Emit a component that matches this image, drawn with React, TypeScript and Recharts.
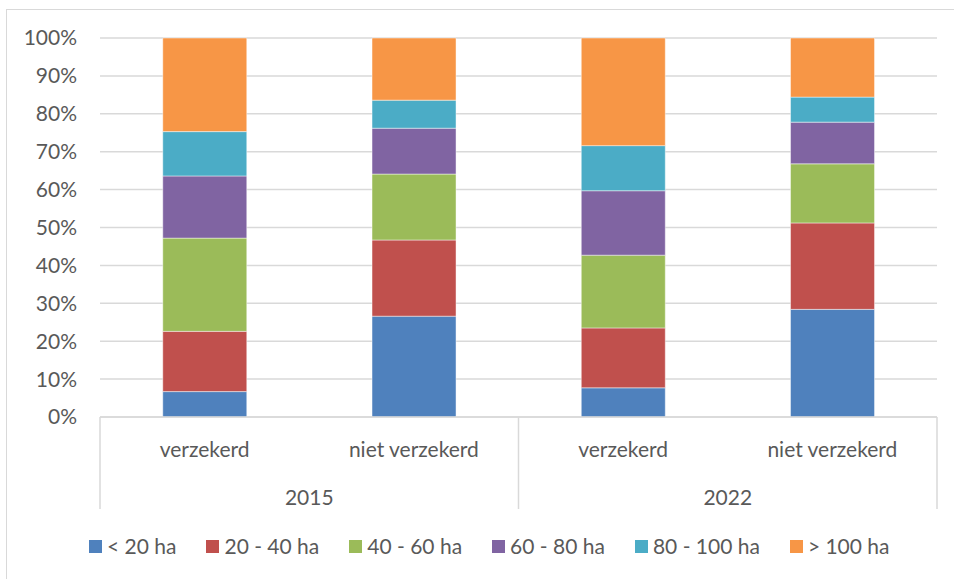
import { BarChart, Bar, XAxis, YAxis, CartesianGrid } from "recharts";

// bar labels (two-level axis: group / year)
const categories = ["verzekerd", "niet verzekerd", "verzekerd", "niet verzekerd"];
const years = ["2015", "2015", "2022", "2022"];

// share per size class, in % of each bar
const lt20 = [6.7, 26.6, 7.7, 28.4];
const s20to40 = [15.9, 20.1, 15.8, 22.8];
const s40to60 = [24.6, 17.4, 19.2, 15.6];
const s60to80 = [16.4, 12.1, 17.0, 11.0];
const s80to100 = [11.7, 7.4, 11.9, 6.6];
const gt100 = [24.7, 16.4, 28.4, 15.6];

const yTicks = [0, 0.1, 0.2, 0.3, 0.4, 0.5, 0.6, 0.7, 0.8, 0.9, 1];

const SERIES = [
  { key: "lt20", name: "< 20 ha", values: lt20, color: "#4F81BD" },
  { key: "s20to40", name: "20 - 40 ha", values: s20to40, color: "#C0504D" },
  { key: "s40to60", name: "40 - 60 ha", values: s40to60, color: "#9BBB59" },
  { key: "s60to80", name: "60 - 80 ha", values: s60to80, color: "#8064A2" },
  { key: "s80to100", name: "80 - 100 ha", values: s80to100, color: "#4BACC6" },
  { key: "gt100", name: "> 100 ha", values: gt100, color: "#F79646" },
];

const FONT = "Lato, 'Liberation Sans', sans-serif";
const FS = 21;
const TEXT = "#595959";
const LINE = "#d9d9d9";

const chartData = categories.map((c, i) => {
  const row: Record<string, string | number> = { id: `${years[i]}-${c}`, label: c, year: years[i] };
  SERIES.forEach((s) => {
    row[s.key] = s.values[i];
  });
  return row;
});

// fallback half band width if the tick payload has no offset
const PLOT_W = 954 - 100 - 17;
const HALF_BAND = PLOT_W / categories.length / 2;

function TwoLevelTick(props: any) {
  const { x, y, payload } = props;
  const idx: number = payload.index ?? 0;
  const off: number = payload.offset || HALF_BAND;
  const firstInGroup = idx === 0 || years[idx] !== years[idx - 1];
  const lastInGroup = idx === years.length - 1 || years[idx] !== years[idx + 1];
  return (
    <g>
      <text
        x={x}
        y={y + 31}
        textAnchor="middle"
        dominantBaseline="central"
        fill={TEXT}
        fontSize={FS}
        fontFamily={FONT}
      >
        {categories[idx]}
      </text>
      {firstInGroup && (
        <>
          <line x1={x - off} x2={x - off} y1={y} y2={y + 92} stroke={LINE} strokeWidth={1.5} />
          <text
            x={x + off}
            y={y + 79}
            textAnchor="middle"
            dominantBaseline="central"
            fill={TEXT}
            fontSize={FS}
            fontFamily={FONT}
          >
            {years[idx]}
          </text>
        </>
      )}
      {idx === years.length - 1 && lastInGroup && (
        <line x1={x + off} x2={x + off} y1={y} y2={y + 92} stroke={LINE} strokeWidth={1.5} />
      )}
    </g>
  );
}

export default function App() {
  return (
    <div style={{ position: "absolute", left: 0, top: 0, width: 954, height: 579, overflow: "hidden", background: "#fff" }}>
      <div
        style={{
          position: "absolute",
          left: 6,
          top: 9,
          width: 1000,
          height: 700,
          border: `1px solid ${LINE}`,
        }}
      />
      <BarChart
        width={954}
        height={579}
        data={chartData}
        stackOffset="expand"
        barCategoryGap="30%"
        margin={{ top: 38, right: 17, bottom: 62, left: 0 }}
      >
        <CartesianGrid vertical={false} stroke={LINE} strokeWidth={1.5} />
        <XAxis
          dataKey="id"
          interval={0}
          height={100}
          tickLine={false}
          tickSize={0}
          tickMargin={0}
          axisLine={{ stroke: LINE, strokeWidth: 1.5 }}
          tick={<TwoLevelTick />}
        />
        <YAxis
          width={100}
          domain={[0, 1]}
          ticks={yTicks}
          interval={0}
          axisLine={false}
          tickLine={false}
          tickSize={0}
          tickMargin={23}
          tickFormatter={(v: number) => `${Math.round(v * 100)}%`}
          tick={{ fill: TEXT, fontSize: FS, fontFamily: FONT }}
        />
        {SERIES.map((s) => (
          <Bar
            key={s.key}
            dataKey={s.key}
            name={s.name}
            stackId="a"
            fill={s.color}
            stroke="#ffffff"
            strokeOpacity={0.45}
            strokeWidth={1}
            isAnimationActive={false}
          />
        ))}
      </BarChart>
      <div
        style={{
          position: "absolute",
          left: 89,
          top: 534,
          width: 860,
          display: "flex",
          justifyContent: "flex-start",
          fontFamily: FONT,
          fontSize: FS,
          color: TEXT,
          lineHeight: "24px",
        }}
      >
        {SERIES.map((s) => (
          <div key={s.key} style={{ display: "flex", alignItems: "center", marginRight: 30 }}>
            <span style={{ display: "inline-block", width: 13, height: 13, background: s.color, marginRight: 5 }} />
            <span>{s.name}</span>
          </div>
        ))}
      </div>
    </div>
  );
}
